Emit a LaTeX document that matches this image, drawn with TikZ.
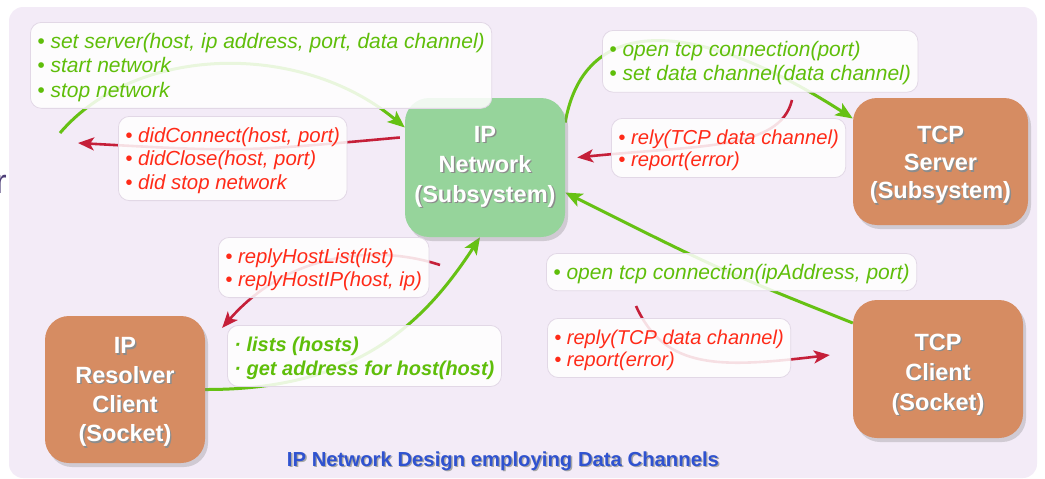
\documentclass[tikz,border=0pt]{standalone}
\usepackage{fontspec}
\setmainfont{Liberation Sans}
\usetikzlibrary{arrows.meta,shadows,calc}

\definecolor{pane}{HTML}{F3EBF7}
\definecolor{netgreen}{HTML}{96D49B}
\definecolor{clay}{HTML}{D68C62}
\definecolor{callgreen}{HTML}{5FBE0A}
\definecolor{linegreen}{HTML}{66C114}
\definecolor{replyred}{HTML}{FF2A18}
\definecolor{linered}{HTML}{C51F39}
\definecolor{titleblue}{HTML}{2F52D0}
\definecolor{boxedge}{HTML}{E2D8E6}
\definecolor{leftover}{HTML}{4E3F78}

% text with a soft offset shadow behind it
\newcommand\shd[2][black!45]{\makebox[0pt][l]{\kern1.4pt\raisebox{-1.4pt}{\textcolor{#1}{#2}}}#2}
% invisible strut that sets the height of a first line
\newcommand\lead[1][19pt]{\rule{0pt}{#1}}

\pgfdeclarelayer{bg}
\pgfdeclarelayer{edges}
\pgfsetlayers{bg,edges,main}

\begin{document}
\begin{tikzpicture}[x=1pt,y=-1pt,
  unit/.style={rounded corners=24pt, text=white, align=center,
    font=\fontsize{23.5}{30}\selectfont\bfseries, inner sep=0pt,
    drop shadow={shadow xshift=3pt,shadow yshift=-4pt,opacity=0.3}},
  subsys/.style={unit, fill=netgreen},
  socket/.style={unit, fill=clay},
  lbl/.style={draw=boxedge, line width=0.8pt, fill=white, fill opacity=0.86,
    text opacity=1, rounded corners=11pt, align=left, anchor=north west,
    inner xsep=7pt, inner ysep=7pt, font=\fontsize{21}{23}\selectfont\itshape},
  calls/.style={lbl, text=callgreen},
  replies/.style={lbl, text=replyred, font=\fontsize{20.3}{23}\selectfont\itshape},
  call/.style={draw=linegreen, line width=3pt,
    -{Stealth[length=17pt,width=14pt,inset=4pt]}},
  reply/.style={draw=linered, line width=2.6pt,
    -{Stealth[length=16pt,width=13pt,inset=4pt]}}
]
\useasboundingbox (0,0) rectangle (1045,479);

\begin{pgfonlayer}{bg}
  \fill[pane, rounded corners=14pt] (9,7) rectangle (1037,478);
\end{pgfonlayer}

\node[text=leftover, font=\fontsize{34}{34}\selectfont, anchor=base east, inner sep=0pt] (edge) at (7,193) {r};

% subsystems and sockets
\node[subsys, minimum width=160pt, minimum height=139pt] (ipnet) at (485,167.5)
  {\shd{IP}\\\shd{Network}\\\shd{(Subsystem)}};
\node[socket, minimum width=175pt, minimum height=127pt, font=\fontsize{23.5}{28}\selectfont\bfseries] (tcpserver) at (940.5,161.5)
  {\lead[25pt]\shd{TCP}\\\shd{Server}\\\shd{(Subsystem)}};
\node[socket, minimum width=170pt, minimum height=138pt] (tcpclient) at (938,369)
  {\lead[29pt]\shd{TCP}\\\shd{Client}\\\shd{(Socket)}};
\node[socket, minimum width=160pt, minimum height=147pt, font=\fontsize{23.5}{29.3}\selectfont\bfseries] (resolver) at (125,389.5)
  {\lead[23pt]\shd{IP}\\\shd{Resolver}\\\shd{Client}\\\shd{(Socket)}};

% message labels
\node[calls, font=\fontsize{21}{24.3}\selectfont\itshape] (setup) at (30,22)
  {\lead• set server(host, ip address, port, data channel)\\• start network\\• stop network};
\node[replies, font=\fontsize{20.4}{23.5}\selectfont\itshape] (status) at (118,116)
  {\lead• didConnect(host, port)\\• didClose(host, port)\\• did stop network};
\node[calls, font=\fontsize{21}{24.5}\selectfont\itshape] (open) at (602,30)
  {\lead• open tcp connection(port)\\• set data channel(data channel)};
\node[replies, font=\fontsize{20.2}{22}\selectfont\itshape] (srvreply) at (611,118)
  {\lead• rely(TCP data channel)\\• report(error)};
\node[replies] (hostreply) at (218,237)
  {\lead• replyHostList(list)\\• replyHostIP(host, ip)};
\node[calls, font=\fontsize{20}{24}\selectfont\bfseries\itshape] (lookup) at (227,325)
  {\lead· lists (hosts)\\· get address for host(host)};
\node[calls] (connect) at (546,253)
  {\lead• open tcp connection(ipAddress, port)};
\node[replies, font=\fontsize{20}{22}\selectfont\itshape] (cltreply) at (547,318)
  {\lead• reply(TCP data channel)\\• report(error)};

\node[text=titleblue, font=\fontsize{20.3}{22}\selectfont\bfseries] (title) at (503,462)
  {\shd[black!35]{IP Network Design employing Data Channels}};

% connectors
\begin{pgfonlayer}{edges}
  \coordinate (a0) at (60,133);
  \draw[call] (a0) .. controls (135,45) and (300,40) .. ([yshift=40pt]ipnet.west);
  \coordinate (b1) at (78,143);
  \draw[reply] ([xshift=-5pt,yshift=30pt]ipnet.west) .. controls (240,152) .. (b1);
  \draw[call] ([yshift=45pt]ipnet.east) .. controls (585,10) and (700,20) .. ([yshift=43pt]tcpserver.west);
  \coordinate (d0) at (792,100);
  \draw[reply] (d0) .. controls (780,150) and (700,145) .. ([xshift=12pt,yshift=10pt]ipnet.east);
  \draw[call] ([yshift=46pt]tcpclient.west) .. controls (720,270) .. ([yshift=-25pt]ipnet.east);
  \coordinate (f0) at (636,306);
  \draw[reply] (f0) .. controls (665,370) and (720,368) .. ([xshift=-23pt,yshift=14pt]tcpclient.west);
  \coordinate (g0) at (440,265);
  \draw[reply] (g0) .. controls (380,245) and (290,250) .. ([xshift=17pt,yshift=-12pt]resolver.north east);
  \draw[call] (resolver.east) .. controls (350,390) and (420,330) .. ([xshift=-5pt]ipnet.south);
\end{pgfonlayer}
\end{tikzpicture}
\end{document}
